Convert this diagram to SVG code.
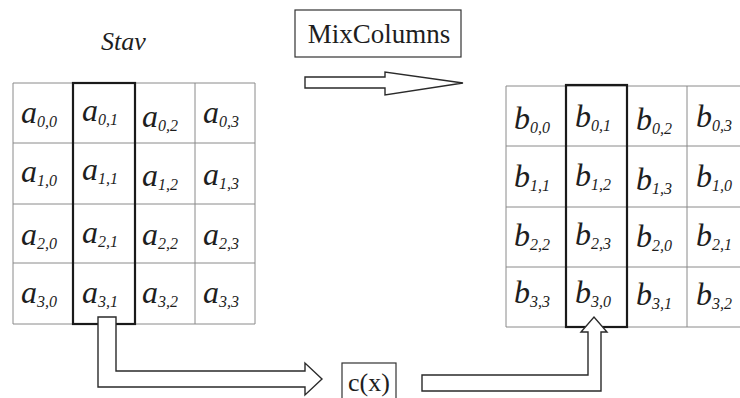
<svg xmlns="http://www.w3.org/2000/svg" width="740" height="398" viewBox="0 0 740 398">
  <style>
    .grid { fill: none; stroke: #8a8a8a; stroke-width: 1; }
    .col { fill: none; stroke: #1a1a1a; stroke-width: 2.2; }
    .box { fill: #ffffff; stroke: #333333; stroke-width: 1.2; }
    .arrow { fill: #ffffff; stroke: #2a2a2a; stroke-width: 1.4; stroke-linejoin: miter; }
    .cell { font-family: "Liberation Serif", "Times New Roman", serif; font-style: italic; font-size: 32px; fill: #1e1e1e; }
    .sub { font-size: 16px; }
    .label { font-family: "Liberation Serif", "Times New Roman", serif; fill: #1e1e1e; }
  </style>
  <rect width="740" height="398" fill="#ffffff"/>

  <!-- state title -->
  <g id="stav-title">
    <text class="label" x="101" y="50" font-size="26" font-style="italic">Stav</text>
  </g>

  <!-- input state matrix a -->
  <g id="state-a">
    <path class="grid" d="M13,83 H255 V324 H13 Z M73,83 V324 M135,83 V324 M195,83 V324 M13,143 H255 M13,204 H255 M13,263 H255"/>
    <rect class="col" x="73" y="83" width="62" height="241"/>
    <text class="cell" x="21" y="123">a<tspan class="sub" dy="4">0,0</tspan></text>
    <text class="cell" x="82" y="121">a<tspan class="sub" dy="4">0,1</tspan></text>
    <text class="cell" x="142" y="127">a<tspan class="sub" dy="4">0,2</tspan></text>
    <text class="cell" x="203" y="123">a<tspan class="sub" dy="4">0,3</tspan></text>
    <text class="cell" x="21" y="182">a<tspan class="sub" dy="4">1,0</tspan></text>
    <text class="cell" x="82" y="180">a<tspan class="sub" dy="4">1,1</tspan></text>
    <text class="cell" x="142" y="186">a<tspan class="sub" dy="4">1,2</tspan></text>
    <text class="cell" x="203" y="185">a<tspan class="sub" dy="4">1,3</tspan></text>
    <text class="cell" x="21" y="245">a<tspan class="sub" dy="4">2,0</tspan></text>
    <text class="cell" x="82" y="243">a<tspan class="sub" dy="4">2,1</tspan></text>
    <text class="cell" x="142" y="245">a<tspan class="sub" dy="4">2,2</tspan></text>
    <text class="cell" x="203" y="245">a<tspan class="sub" dy="4">2,3</tspan></text>
    <text class="cell" x="21" y="303">a<tspan class="sub" dy="4">3,0</tspan></text>
    <text class="cell" x="82" y="303">a<tspan class="sub" dy="4">3,1</tspan></text>
    <text class="cell" x="142" y="303">a<tspan class="sub" dy="4">3,2</tspan></text>
    <text class="cell" x="203" y="303">a<tspan class="sub" dy="4">3,3</tspan></text>
  </g>

  <!-- operation label -->
  <g id="mixcolumns">
    <rect class="box" x="295" y="10" width="166" height="47"/>
    <text class="label" x="379" y="43" font-size="27" text-anchor="middle">MixColumns</text>
  </g>

  <!-- polynomial c(x) -->
  <g id="cx">
    <rect class="box" x="342" y="363" width="54" height="40"/>
    <text class="label" x="369" y="391" font-size="26" text-anchor="middle">c(x)</text>
  </g>

  <!-- output state matrix b -->
  <g id="state-b">
    <path class="grid" d="M506,86 H740 M506,327 H740 M506,86 V327 M566,86 V327 M627,86 V327 M687,86 V327 M506,146 H740 M506,207 H740 M506,267 H740"/>
    <rect class="col" x="566" y="85" width="61" height="242"/>
    <text class="cell" x="514" y="129">b<tspan class="sub" dy="4">0,0</tspan></text>
    <text class="cell" x="575" y="127">b<tspan class="sub" dy="4">0,1</tspan></text>
    <text class="cell" x="636" y="130">b<tspan class="sub" dy="4">0,2</tspan></text>
    <text class="cell" x="696" y="127">b<tspan class="sub" dy="4">0,3</tspan></text>
    <text class="cell" x="514" y="187">b<tspan class="sub" dy="4">1,1</tspan></text>
    <text class="cell" x="575" y="186">b<tspan class="sub" dy="4">1,2</tspan></text>
    <text class="cell" x="636" y="190">b<tspan class="sub" dy="4">1,3</tspan></text>
    <text class="cell" x="696" y="187">b<tspan class="sub" dy="4">1,0</tspan></text>
    <text class="cell" x="514" y="246">b<tspan class="sub" dy="4">2,2</tspan></text>
    <text class="cell" x="575" y="245">b<tspan class="sub" dy="4">2,3</tspan></text>
    <text class="cell" x="636" y="247">b<tspan class="sub" dy="4">2,0</tspan></text>
    <text class="cell" x="696" y="246">b<tspan class="sub" dy="4">2,1</tspan></text>
    <text class="cell" x="514" y="303">b<tspan class="sub" dy="4">3,3</tspan></text>
    <text class="cell" x="575" y="303">b<tspan class="sub" dy="4">3,0</tspan></text>
    <text class="cell" x="636" y="305">b<tspan class="sub" dy="4">3,1</tspan></text>
    <text class="cell" x="696" y="305">b<tspan class="sub" dy="4">3,2</tspan></text>
  </g>

  <!-- hollow block arrows -->
  <g id="connectors">
    <path class="arrow" d="M305,77 H385 V72 L463,83 L385,95 V88 H305 Z"/>
    <path class="arrow" d="M98,317 H116 V371 H305 V363 L322,379 L305,395 V387 H98 Z"/>
    <path class="arrow" d="M422,375 H588 V332 H581 L594,317 L607,332 H601 V391 H422 Z"/>
  </g>
</svg>
